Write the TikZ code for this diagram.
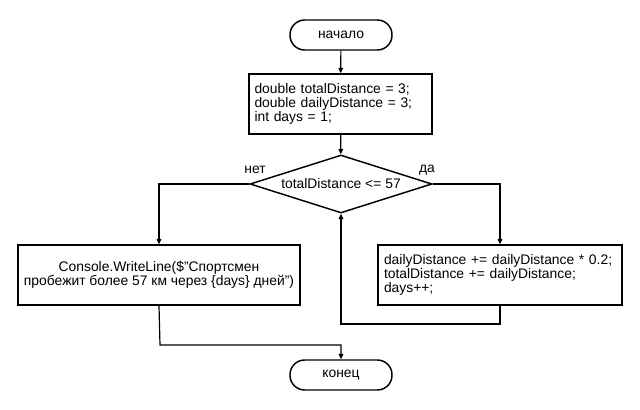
\documentclass[tikz,border=0pt]{standalone}
\usepackage{fontspec}
\setmainfont{Liberation Sans}
\usetikzlibrary{shapes.geometric,arrows.meta}
\begin{document}
\begin{tikzpicture}[x=0.75pt,y=-0.75pt,
  font=\fontsize{10.4}{10.2}\selectfont,
  line width=1.1pt,
  term/.style={draw,rounded corners=11pt,minimum width=76.5pt,minimum height=22.5pt,inner sep=0pt},
  proc/.style={draw,minimum height=45pt,inner ysep=0pt},
  dec/.style={draw,diamond,aspect=3.14,minimum width=136.5pt,minimum height=43.5pt,inner sep=0pt},
  arr/.style={-{Triangle[length=4pt,width=3.5pt]},line width=0.9pt},
  lab/.style={inner sep=0pt}]
\useasboundingbox (0,0) rectangle (640,410);
\node[term] (start) at (341,35) {начало};
\node[proc,inner xsep=4pt,text width=129pt,align=left] (init) at (340.5,104) {double totalDistance = 3;\\double dailyDistance = 3;\\int days = 1;};
\node[dec] (cond) at (341,184) {totalDistance <= 57};
\node[proc,inner xsep=1pt,minimum width=211.5pt,align=center] (out) at (159,275) {Console.WriteLine(\$"Спортсмен\\пробежит более 57 км через \{days\} дней")};
\node[proc,inner xsep=4.5pt,text width=174pt,align=left] (body) at (500,275) {dailyDistance += dailyDistance * 0.2;\\totalDistance += dailyDistance;\\days++;};
\node[term] (stop) at (341,375) {конец};
\coordinate (lb1) at (500,324);
\coordinate (lb2) at (341,324);
\coordinate (j1) at (160,345);
\coordinate (j2) at (341,345);
\node[lab] (no) at (255,170) {нет};
\node[lab] (yes) at (427,170) {да};
\draw[arr] (start) -- (init);
\draw[arr] (init) -- (cond);
\draw[arr] (cond.west) -| (out.north);
\draw[arr] (cond.east) -| (body.north);
\draw[arr] (body.south) -- (lb1) -- (lb2) -- (cond.south);
\draw[arr] (out.south) -- (j1) -- (j2) -- (stop.north);
\end{tikzpicture}
\end{document}
